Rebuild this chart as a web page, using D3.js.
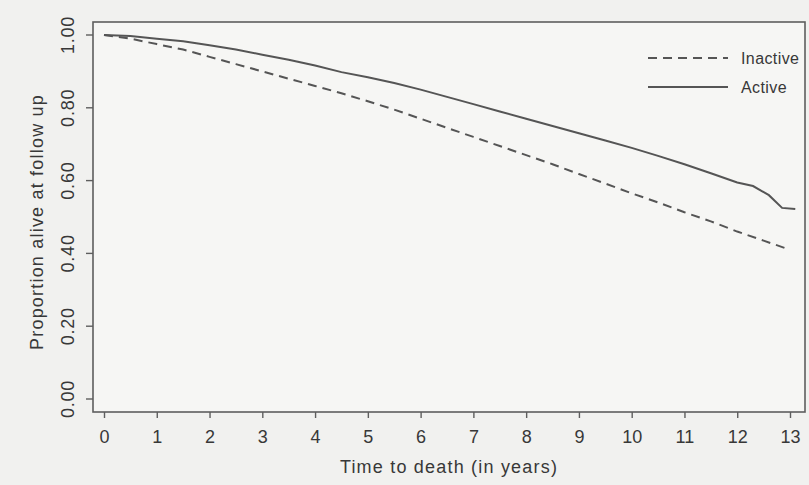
<!DOCTYPE html>
<html>
<head>
<meta charset="utf-8">
<script src="https://cdn.jsdelivr.net/npm/d3@7"></script>
<style>
  body { margin: 0; background: #f1f1ef; }
  text { font-family: "Liberation Sans", Arial, sans-serif; fill: #383838; }
</style>
</head>
<body>
<div id="chart"></div>
<script>
// years since baseline
const activeTime = [0, 0.5, 1, 1.5, 2, 2.5, 3, 3.5, 4, 4.5, 5, 5.5, 6, 6.5, 7, 7.5, 8, 8.5, 9, 9.5, 10, 10.5, 11, 11.5, 12, 12.3, 12.6, 12.85, 13.1]
const activeSurv = [1.0, 0.997, 0.99, 0.983, 0.972, 0.96, 0.946, 0.932, 0.916, 0.898, 0.884, 0.868, 0.85, 0.83, 0.81, 0.79, 0.77, 0.75, 0.73, 0.71, 0.69, 0.668, 0.645, 0.62, 0.595, 0.585, 0.56, 0.525, 0.522]

const inactiveTime = [0, 0.5, 1, 1.5, 2, 2.5, 3, 3.5, 4, 4.5, 5, 5.5, 6, 6.5, 7, 7.5, 8, 8.5, 9, 9.5, 10, 10.5, 11, 11.5, 12, 12.5, 13]
const inactiveSurv = [1.0, 0.99, 0.975, 0.96, 0.94, 0.92, 0.9, 0.88, 0.86, 0.84, 0.818, 0.795, 0.77, 0.745, 0.72, 0.695, 0.67, 0.645, 0.618, 0.592, 0.565, 0.54, 0.513, 0.488, 0.46, 0.435, 0.41]

const xTicks = d3.range(0, 14)
const yTicks = [0, 0.2, 0.4, 0.6, 0.8, 1.0]
const legendNames = ["Inactive", "Active"]

const width = 809, height = 485
const box = { left: 93, top: 22, right: 805, bottom: 412 }

const x = d3.scaleLinear().domain([0, 13]).range([104, 790])
const y = d3.scaleLinear().domain([0, 1]).range([399, 35])

const svg = d3.select("#chart").append("svg")
    .attr("width", width)
    .attr("height", height)

svg.append("rect")
    .attr("width", width).attr("height", height)
    .attr("fill", "#f1f1ef")

// frame
svg.append("rect")
    .attr("x", box.left).attr("y", box.top)
    .attr("width", box.right - box.left)
    .attr("height", box.bottom - box.top)
    .attr("fill", "#f6f6f4")
    .attr("stroke", "#5e5e5e")
    .attr("stroke-width", 1.6)

// x axis
const xAxis = svg.append("g")
    .attr("transform", "translate(0," + box.bottom + ")")
    .call(d3.axisBottom(x).tickValues(xTicks).tickSize(6).tickPadding(12).tickFormat(d3.format("d")))
xAxis.select(".domain").remove()
xAxis.selectAll("line").attr("stroke", "#5e5e5e").attr("stroke-width", 1.4)
xAxis.selectAll("text").style("font-size", "18px")

// y axis, labels turned on their side
const yAxis = svg.append("g")
    .attr("transform", "translate(" + box.left + ",0)")
    .call(d3.axisLeft(y).tickValues(yTicks).tickSize(7).tickFormat(d3.format(".2f")))
yAxis.select(".domain").remove()
yAxis.selectAll(".tick").attr("transform", null)
yAxis.selectAll(".tick line")
    .attr("stroke", "#5e5e5e").attr("stroke-width", 1.4)
    .attr("transform", d => "translate(0," + y(d) + ")")
yAxis.selectAll(".tick text")
    .style("font-size", "18px")
    .style("letter-spacing", "0.8px")
    .attr("text-anchor", "middle")
    .attr("x", 0).attr("y", 0).attr("dy", "0.35em")
    .attr("transform", d => "translate(-25," + y(d) + ") rotate(-90)")

// axis titles
svg.append("text")
    .attr("x", 449)
    .attr("y", 473)
    .attr("text-anchor", "middle")
    .style("font-size", "18px")
    .style("letter-spacing", "1.2px")
    .text("Time to death (in years)")

svg.append("text")
    .attr("transform", "translate(43,222) rotate(-90)")
    .attr("text-anchor", "middle")
    .style("font-size", "18px")
    .style("letter-spacing", "1.2px")
    .text("Proportion alive at follow up")

// curves
const line = d3.line()
    .x(d => x(d[0]))
    .y(d => y(d[1]))

svg.append("path")
    .datum(inactiveTime.map((t, i) => [t, inactiveSurv[i]]))
    .attr("d", line)
    .attr("fill", "none")
    .attr("stroke", "#555")
    .attr("stroke-width", 2)
    .attr("stroke-dasharray", "9,6")

svg.append("path")
    .datum(activeTime.map((t, i) => [t, activeSurv[i]]))
    .attr("d", line)
    .attr("fill", "none")
    .attr("stroke", "#555")
    .attr("stroke-width", 2)

// legend
const legend = svg.append("g")
legendNames.forEach((name, i) => {
    const ly = 58 + i * 29
    legend.append("line")
        .attr("x1", 648).attr("x2", 728)
        .attr("y1", ly).attr("y2", ly)
        .attr("stroke", "#555")
        .attr("stroke-width", 2)
        .attr("stroke-dasharray", i == 0 ? "9,6" : null)
    legend.append("text")
        .attr("x", 741).attr("y", ly)
        .attr("dy", "0.35em")
        .style("font-size", "16px")
        .style("letter-spacing", "0.4px")
        .text(name)
})
</script>
</body>
</html>
